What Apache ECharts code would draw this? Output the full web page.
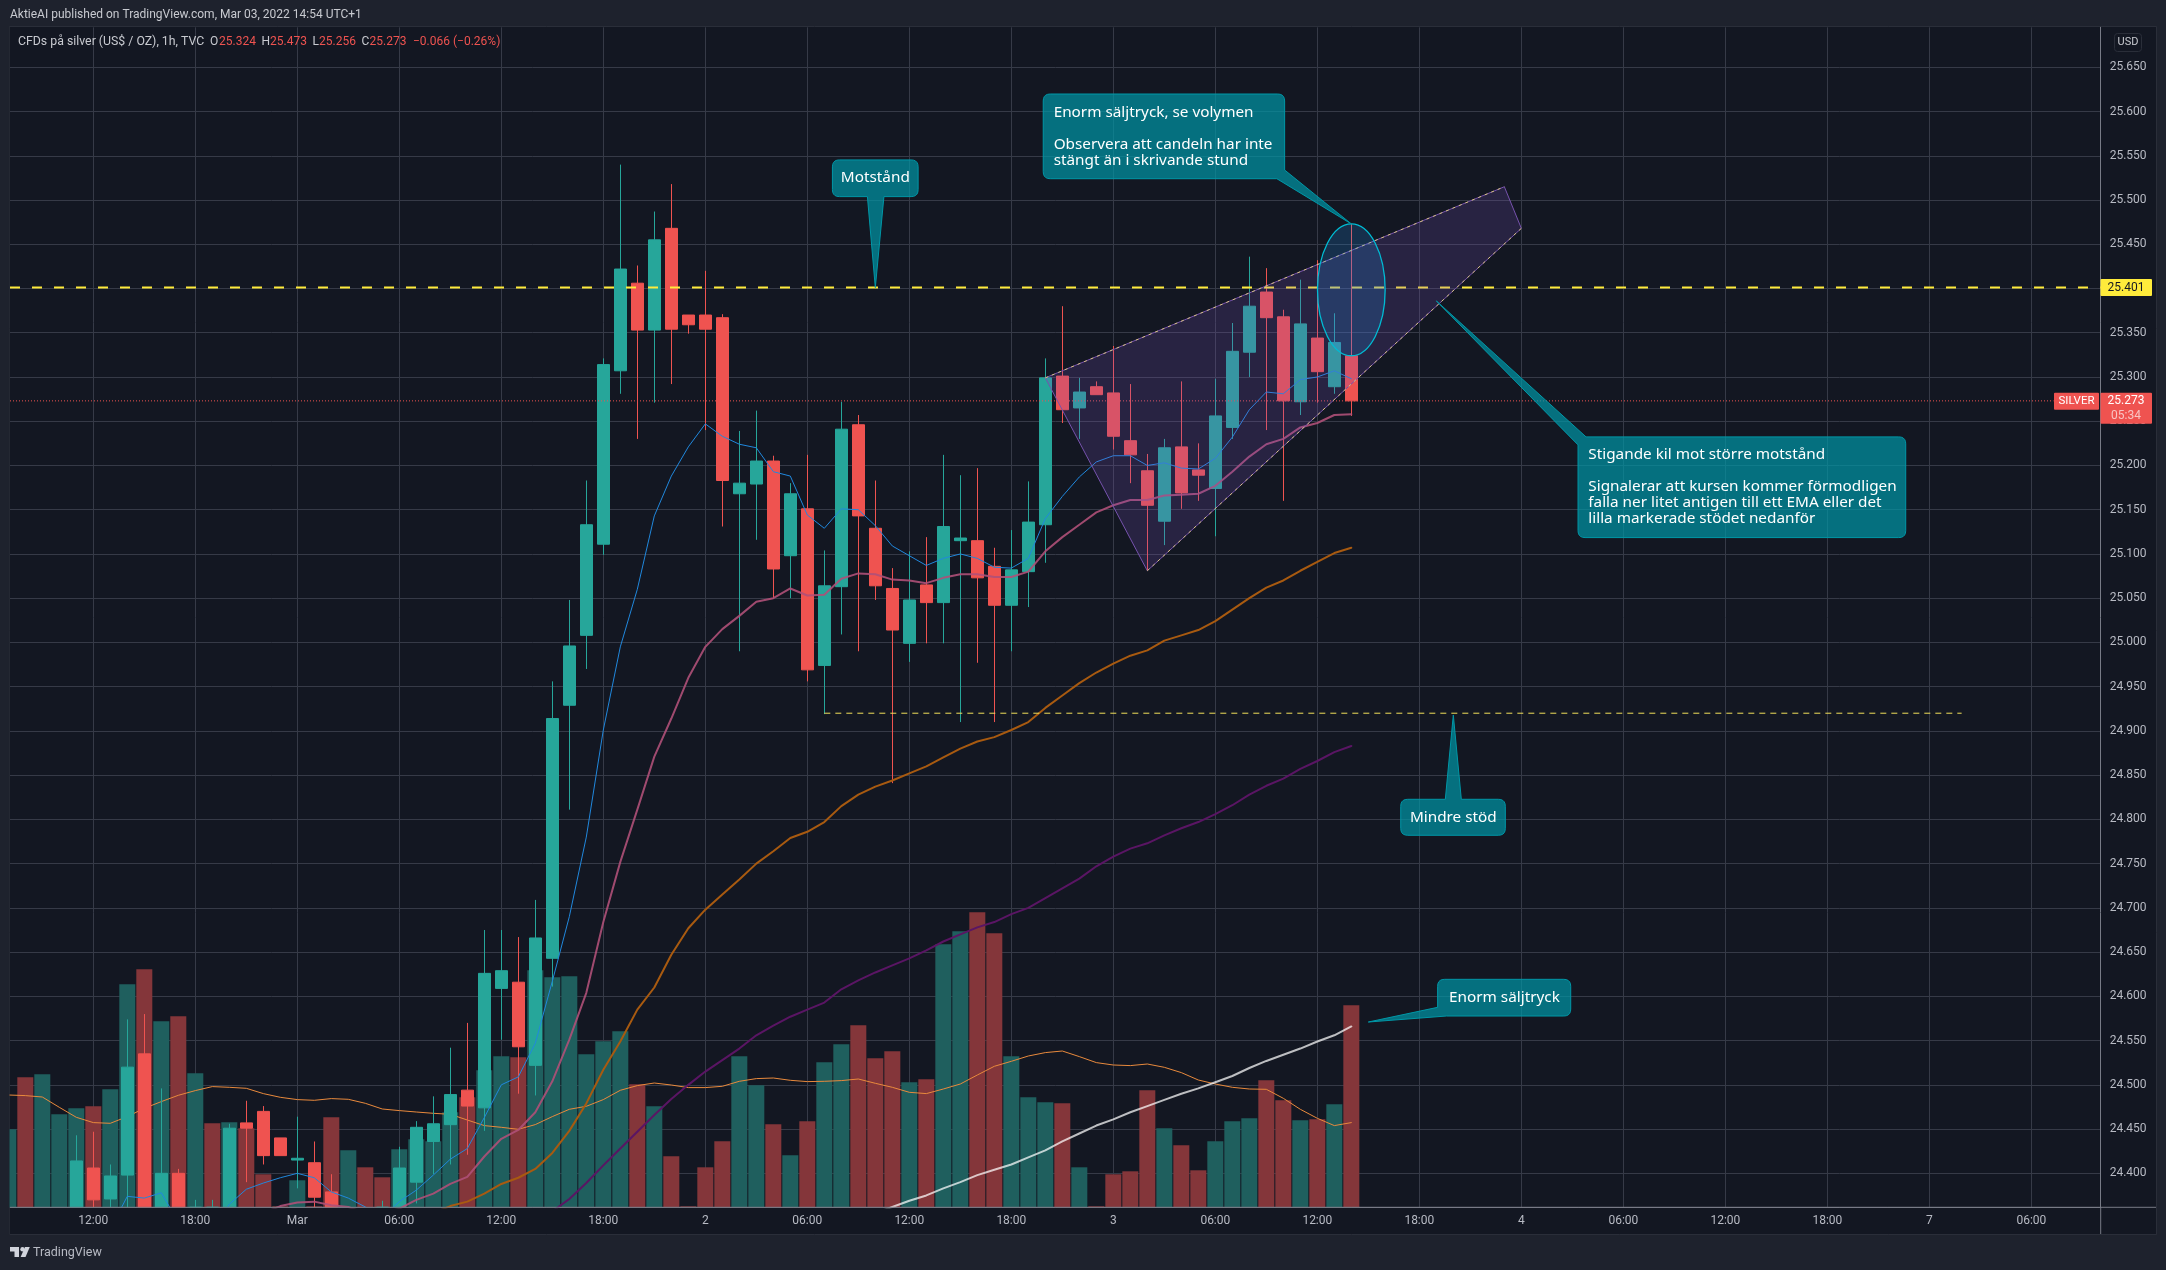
<!DOCTYPE html>
<html><head><meta charset="utf-8">
<script src="https://cdn.jsdelivr.net/npm/echarts@6/dist/echarts.min.js"></script>
<style>html,body{margin:0;padding:0;background:#1e222d}#c{width:2166px;height:1270px}</style>
</head><body><div id="c"></div>
<script>
// ---------- data ----------
const firstCandle = 4;
const candleOpen = [24.33,24.406,24.371,24.398,24.535,24.34,24.400,24.30,24.33,24.33,24.457,24.470,24.440,24.415,24.412,24.379,24.33,24.30,24.33,24.33,24.390,24.436,24.455,24.494,24.474,24.609,24.616,24.522,24.643,24.929,25.008,25.111,25.307,25.406,25.353,25.468,25.370,25.370,25.367,25.168,25.179,25.205,25.098,25.151,24.974,25.063,25.246,25.129,25.061,24.999,25.065,25.045,25.115,25.115,25.086,25.042,25.080,25.133,25.301,25.265,25.289,25.282,25.228,25.194,25.137,25.221,25.195,25.174,25.243,25.328,25.396,25.368,25.272,25.344,25.289,25.324];
const candleClose = [24.414,24.370,24.397,24.520,24.33,24.400,24.34,24.33,24.30,24.451,24.451,24.420,24.420,24.417,24.373,24.33,24.30,24.32,24.31,24.406,24.452,24.456,24.489,24.476,24.626,24.629,24.543,24.666,24.914,24.996,25.133,25.314,25.422,25.353,25.455,25.354,25.359,25.354,25.183,25.180,25.205,25.083,25.168,24.969,25.064,25.241,25.143,25.064,25.014,25.048,25.045,25.131,25.118,25.073,25.042,25.082,25.136,25.299,25.263,25.283,25.280,25.233,25.212,25.155,25.220,25.169,25.189,25.256,25.329,25.380,25.367,25.273,25.360,25.306,25.339,25.273];
const candleLow = [24.31,24.34,24.34,24.34,24.31,24.32,24.32,24.28,24.28,24.31,24.390,24.410,24.420,24.383,24.35,24.31,24.28,24.27,24.29,24.31,24.366,24.399,24.410,24.421,24.448,24.551,24.490,24.488,24.611,24.811,24.970,25.099,25.281,25.230,25.271,25.292,25.349,25.240,25.131,24.990,25.116,25.050,25.050,24.956,24.919,25.009,24.990,25.048,24.841,24.978,24.999,24.999,24.910,24.977,24.910,24.990,25.040,25.090,25.248,25.230,25.280,25.218,25.180,25.081,25.110,25.151,25.160,25.120,25.230,25.300,25.240,25.160,25.257,25.271,25.281,25.256];
const candleHigh = [24.443,24.447,24.410,24.574,24.580,24.496,24.405,24.370,24.370,24.456,24.482,24.476,24.440,24.464,24.436,24.399,24.34,24.34,24.369,24.430,24.459,24.487,24.542,24.570,24.675,24.675,24.667,24.709,24.956,25.048,25.183,25.321,25.540,25.426,25.487,25.518,25.370,25.420,25.371,25.239,25.262,25.211,25.180,25.212,25.104,25.272,25.257,25.183,25.084,25.103,25.119,25.212,25.189,25.197,25.107,25.127,25.182,25.321,25.380,25.299,25.295,25.335,25.292,25.213,25.230,25.295,25.225,25.298,25.361,25.436,25.423,25.376,25.410,25.432,25.372,25.473];

const volumes = [78,130,133,93,99,101,118,223,238,186,191,134,84,85,79,33,1,27,1,90,57,40,30,58,68,66,95,110,137,151,150,237,230,231,153,166,176,123,101,51,1,40,66,151,122,83,52,86,145,163,182,149,156,125,128,263,276,295,274,151,110,105,104,40,1,33,36,117,79,62,37,66,86,89,127,107,87,88,103,202];
const volumeDir = [1,0,1,1,1,0,1,1,0,1,0,1,0,1,0,0,0,1,0,0,1,0,0,1,1,1,1,0,1,1,0,1,1,1,1,1,1,0,1,0,0,0,0,1,1,0,1,0,1,1,0,0,0,1,0,1,1,0,0,1,1,1,0,1,0,0,0,0,1,0,0,1,1,1,0,0,1,0,1,0];
const volumeMA = [112.3,111.7,110.3,100,90,84.7,84,90.7,99,105.7,112,116.7,120.7,120,119,113.7,110,107.7,107,108.7,108,104,98.3,96.7,95.3,94,93,87.3,81.7,80,78,82.7,90.7,98,101,107.7,117,121.7,124.3,122.3,119.7,119.7,121,126,128.7,129.3,127,125.7,126,126.7,128.3,124,120,115,113.7,118.3,123.3,132.3,141,146,151.3,154.7,156.3,150.7,144.7,142.3,141.7,143.3,140,134.7,127.3,123.3,120,118.3,118,109,98,89,81.7,84.7];

const blueStart = 6;
const blueEma = [24.337,24.374,24.372,24.378,24.345,24.33,24.335,24.365,24.382,24.389,24.395,24.400,24.395,24.379,24.372,24.362,24.35,24.368,24.381,24.398,24.416,24.428,24.463,24.500,24.509,24.547,24.617,24.690,24.780,24.901,24.995,25.060,25.143,25.188,25.221,25.247,25.233,25.224,25.220,25.193,25.188,25.144,25.129,25.151,25.150,25.132,25.109,25.098,25.087,25.095,25.100,25.095,25.085,25.084,25.095,25.140,25.165,25.187,25.204,25.211,25.211,25.200,25.203,25.197,25.196,25.208,25.232,25.263,25.283,25.281,25.297,25.300,25.307,25.298];
const pinkStart = 15;
const pinkEma = [24.355,24.363,24.367,24.368,24.364,24.362,24.355,24.355,24.360,24.370,24.377,24.388,24.396,24.419,24.439,24.449,24.469,24.504,24.551,24.604,24.684,24.752,24.811,24.871,24.914,24.960,24.995,25.015,25.030,25.046,25.050,25.061,25.053,25.054,25.072,25.078,25.077,25.071,25.070,25.067,25.073,25.077,25.077,25.074,25.074,25.080,25.103,25.119,25.133,25.147,25.155,25.161,25.161,25.166,25.167,25.168,25.177,25.193,25.210,25.224,25.230,25.243,25.248,25.257,25.258];
const orangeStart = 24;
const orangeEma = [24.345,24.355,24.363,24.368,24.377,24.388,24.395,24.405,24.423,24.448,24.479,24.517,24.549,24.585,24.610,24.647,24.677,24.698,24.715,24.732,24.750,24.764,24.779,24.786,24.797,24.815,24.828,24.837,24.844,24.852,24.860,24.870,24.880,24.888,24.893,24.901,24.910,24.926,24.940,24.954,24.966,24.976,24.985,24.991,25.002,25.008,25.014,25.024,25.037,25.050,25.062,25.070,25.081,25.091,25.101,25.107];
const purpleStart = 32;
const purpleEma = [24.357,24.371,24.389,24.409,24.428,24.447,24.466,24.484,24.500,24.515,24.528,24.541,24.556,24.567,24.577,24.585,24.593,24.608,24.618,24.627,24.635,24.643,24.652,24.662,24.670,24.678,24.684,24.693,24.700,24.711,24.722,24.733,24.747,24.758,24.767,24.773,24.782,24.790,24.797,24.806,24.816,24.828,24.838,24.846,24.857,24.866,24.876,24.883];
const whiteStart = 51;
const whiteEma = [24.355,24.362,24.369,24.375,24.383,24.390,24.398,24.404,24.410,24.418,24.426,24.436,24.445,24.454,24.461,24.469,24.476,24.483,24.490,24.496,24.503,24.510,24.519,24.527,24.534,24.541,24.549,24.556,24.566];

const priceTicks = [24.40,24.45,24.50,24.55,24.60,24.65,24.70,24.75,24.80,24.85,24.90,24.95,25.00,25.05,25.10,25.15,25.20,25.25,25.30,25.35,25.40,25.45,25.50,25.55,25.60,25.65];
const timeTickIndex = [5,11,17,23,29,35,41,47,53,59,65,71,77,83,89,95,101,107,113,119];
const timeTickLabel = ['12:00','18:00','Mar','06:00','12:00','18:00','2','06:00','12:00','18:00','3','06:00','12:00','18:00','4','06:00','12:00','18:00','7','06:00'];

const resistanceLine = [[0.1,25.401],[123.08,25.401]];
const lastPriceLine = [[0.1,25.273],[120.3,25.273]];
const supportLine = [[48,24.92],[114.9,24.92]];
const wedgeApex = [61,25.299];
const wedgeUpper = [88,25.515];
const wedgeRight = [89,25.468];
const wedgeBottom = [67,25.081];
const ellipseBox = [77.01,80.99,25.324,25.473];

const FONT = 'Roboto, "Noto Sans", sans-serif';
const NOTE_FONT = '15.3px "Noto Sans", sans-serif';
const PRICE_MIN = 24.3616, PRICE_MAX = 25.6952;

// callouts: tip in data coordinates, outline offset in pixels from that tip
const callouts = [
 {tip:[51,25.401], text:'Motstånd', at:[0,-109.6], align:'center',
  outline:[[-42.9,-127.7,7],[42.8,-127.7,7],[42.8,-91,7],[8.6,-91,0],[0,0,0],[-7.9,-91,0],[-42.9,-91,7]]},
 {tip:[79,25.473], text:'Enorm säljtryck, se volymen\n\nObservera att candeln har inte\nstängt än i skrivande stund', at:[-297.7,-119.4], align:'left',
  outline:[[-308.1,-129.9,7],[-66.7,-129.9,7],[-66.7,-53.9,0],[0,0,0],[-74.5,-45.2,0],[-308.1,-45.2,7]]},
 {tip:[84,25.386], text:'Stigande kil mot större motstånd\n\nSignalerar att kursen kommer förmodligen\nfalla ner litet antigen till ett EMA eller det\nlilla markerade stödet nedanför', at:[152,146.1], align:'left',
  outline:[[0,0,0],[149.7,136,0],[469.4,136,7],[469.4,236.7,7],[141.7,236.7,7],[141.7,144,0]]},
 {tip:[85,24.918], text:'Mindre stöd', at:[0,102.4], align:'center',
  outline:[[-52.6,84.3,7],[-8,84.3,0],[0,0,0],[8,84.3,0],[52,84.3,7],[52,120.3,7],[-52.6,120.3,7]]},
 {tip:[80,24.571], text:'Enorm säljtryck', at:[136.1,-24.3], align:'center',
  outline:[[69.3,-42.7,7],[202.4,-42.7,7],[202.4,-6,7],[78.1,-6,0],[0,0,0],[69.3,-14.7,0]]}
];

// ---------- helpers ----------
const idx = (arr,start)=>arr.map((v,k)=>[start+k,v]);
function lineSeries(data,color,width,z,extra){
  return Object.assign({type:'line',data,showSymbol:false,symbol:'none',silent:true,animation:false,z,
    lineStyle:{color,width,cap:'round',join:'round'},clip:true},extra||{});
}
function rounded(pts){
  const out=[], n=pts.length;
  for(let k=0;k<n;k++){
    const c=pts[k], r=c[2];
    if(!r){out.push([c[0],c[1]]);continue;}
    const p=pts[(k+n-1)%n], q=pts[(k+1)%n];
    const u=(a)=>{const dx=a[0]-c[0],dy=a[1]-c[1],l=Math.hypot(dx,dy)||1;return [c[0]+dx/l*r,c[1]+dy/l*r];};
    const a=u(p), b=u(q);
    for(let t=0;t<=1.001;t+=0.2){
      const m=1-t;
      out.push([m*m*a[0]+2*m*t*c[0]+t*t*b[0], m*m*a[1]+2*m*t*c[1]+t*t*b[1]]);
    }
  }
  return out;
}
const clampLow = (v)=>Math.max(v,PRICE_MIN);
const candles = candleOpen
  .map((o,k)=>[firstCandle+k,clampLow(o),clampLow(candleClose[k]),clampLow(candleLow[k]),clampLow(candleHigh[k])])
  .filter(c=>c[4]>PRICE_MIN);

// ---------- chart ----------
const chart = echarts.init(document.getElementById('c'),null,{renderer:'canvas',width:2166,height:1270});
const LEFT=10, RIGHTX=2100.7, TOP=27.3, BOTTOM=1207.3;
const GRIDC='#363a47', AXC='#787b86', TXT='#b8bbc4', RED='#ef5350';
const txt=(x,y,text,fill,size,extra)=>Object.assign({type:'text',z:20,silent:true,style:{x,y,text,fill:fill||TXT,font:(size||12)+'px '+FONT,verticalAlign:'middle'}},extra||{});

chart.setOption({
  animation:false,
  backgroundColor:'#1e222d',
  grid:{left:LEFT,top:TOP,width:RIGHTX-LEFT,height:BOTTOM-TOP,containLabel:false,show:false},
  xAxis:{type:'value',min:0.1,max:123.08,position:'bottom',
    axisLine:{show:true,onZero:false,lineStyle:{color:AXC,width:1}},
    axisTick:{show:false,customValues:timeTickIndex},
    splitLine:{show:true,lineStyle:{color:GRIDC,width:1}},
    axisLabel:{customValues:timeTickIndex,color:TXT,fontFamily:'Roboto',fontSize:12,margin:8,
      formatter:(v)=>timeTickLabel[timeTickIndex.indexOf(v)]||''}},
  yAxis:[
    {type:'value',min:PRICE_MIN,max:PRICE_MAX,position:'right',scale:true,
     axisLine:{show:true,onZero:false,lineStyle:{color:AXC,width:1}},
     axisTick:{show:false,customValues:priceTicks},
     splitLine:{show:true,lineStyle:{color:GRIDC,width:1}},
     axisLabel:{customValues:priceTicks,color:TXT,fontFamily:'Roboto',fontSize:12,margin:9,
       formatter:(v)=>v.toFixed(3)}},
    {type:'value',min:0,max:1180,show:false,splitLine:{show:false}}
  ],
  series:[
    {type:'bar',name:'Volume',yAxisIndex:1,barWidth:16,z:1,silent:true,animation:false,clip:true,
     data:volumes.map((v,k)=>({value:[k,v],itemStyle:{color:volumeDir[k]?'#1f5f5e':'#84363a'}}))},
    lineSeries(idx(volumeMA,0),'#e98a3d',1,2,{yAxisIndex:1}),
    {type:'candlestick',name:'CFDs på silver',data:candles,barWidth:13,z:3,silent:true,animation:false,clip:true,
     itemStyle:{color:'#26a69a',color0:RED,borderColor:'#26a69a',borderColor0:RED,borderWidth:1,borderColorDoji:'#26a69a'}},
    lineSeries(idx(whiteEma,whiteStart),'rgba(255,255,255,0.72)',2,4),
    lineSeries(idx(purpleEma,purpleStart),'#5a1564',2,4),
    lineSeries(idx(orangeEma,orangeStart),'#a85a10',2,4),
    lineSeries(idx(pinkEma,pinkStart),'rgba(175,80,120,0.9)',2,4),
    lineSeries(idx(blueEma,blueStart),'#2188dd',1,4),
    lineSeries(resistanceLine,'#ffeb3b',2,5,{lineStyle:{color:'#ffeb3b',width:2,type:[10,12]}}),
    lineSeries(lastPriceLine,RED,1,5,{lineStyle:{color:RED,width:1,type:[1,2]}}),
    lineSeries(supportLine,'#f2e05a',1,5,{lineStyle:{color:'#f2e05a',width:1,type:[6,5]}}),
    {type:'custom',name:'Wedge',z:6,silent:true,animation:false,clip:false,data:[[0,0]],
     renderItem:(p,api)=>({type:'polygon',
       shape:{points:[wedgeApex,wedgeUpper,wedgeRight,wedgeBottom].map(c=>api.coord(c))},
       style:{fill:'rgba(126,87,194,0.2)',stroke:'#7652ad',lineWidth:1}})},
    lineSeries([wedgeApex,wedgeUpper],'rgba(255,235,120,0.75)',1,6,{lineStyle:{color:'rgba(255,235,120,0.75)',width:1,type:[3,4]}}),
    lineSeries([wedgeBottom,wedgeRight],'rgba(255,235,120,0.75)',1,6,{lineStyle:{color:'rgba(255,235,120,0.75)',width:1,type:[3,4]}}),
    {type:'custom',name:'Ellipse',z:7,silent:true,animation:false,clip:false,data:[[0,0]],
     renderItem:(p,api)=>{
       const a=api.coord([ellipseBox[0],ellipseBox[3]]), b=api.coord([ellipseBox[1],ellipseBox[2]]);
       return {type:'ellipse',shape:{cx:(a[0]+b[0])/2,cy:(a[1]+b[1])/2,rx:(b[0]-a[0])/2,ry:(b[1]-a[1])/2},
         style:{fill:'rgba(33,150,243,0.2)',stroke:'#00bcd4',lineWidth:1.3}};
     }},
    {type:'custom',name:'Callouts',z:8,silent:true,animation:false,clip:false,data:callouts.map((c,k)=>[k,0]),
     renderItem:(p,api)=>{
       const c=callouts[p.dataIndex], t=api.coord(c.tip);
       return {type:'group',x:t[0],y:t[1],children:[
         {type:'polygon',shape:{points:rounded(c.outline)},style:{fill:'rgba(0,151,167,0.7)',stroke:'#0097a7',lineWidth:1}},
         {type:'text',style:{text:c.text,x:c.at[0],y:c.at[1],fill:'#ffffff',font:NOTE_FONT,align:c.align,
            verticalAlign:c.align==='center'?'middle':'top',lineHeight:16}}
       ]};
     }},
    {type:'custom',name:'Price tags',z:9,silent:true,animation:false,clip:false,data:[[0,25.401],[0,25.273]],
     renderItem:(p,api)=>{
       const v=api.value(1), y=api.coord([0,v])[1];
       if(p.dataIndex===0) return {type:'group',children:[
         {type:'rect',shape:{x:2100.5,y:y-8.5,width:51.5,height:17,r:1},style:{fill:'#ffeb3b'}},
         {type:'text',style:{text:v.toFixed(3),x:2126,y:y,fill:'#131722',font:'12px '+FONT,align:'center',verticalAlign:'middle'}}
       ]};
       return {type:'group',children:[
         {type:'rect',shape:{x:2054,y:y-8,width:45,height:17,r:1},style:{fill:RED}},
         {type:'text',style:{text:'SILVER',x:2076.5,y:y+0.5,fill:'#ffffff',font:'11.5px '+FONT,align:'center',verticalAlign:'middle'}},
         {type:'rect',shape:{x:2100.5,y:y-8,width:51.5,height:31,r:1},style:{fill:RED}},
         {type:'text',style:{text:v.toFixed(3),x:2126,y:y+0.5,fill:'#ffffff',font:'12px '+FONT,align:'center',verticalAlign:'middle'}},
         {type:'text',style:{text:'05:34',x:2126,y:y+15,fill:'#f8c4c3',font:'12px '+FONT,align:'center',verticalAlign:'middle'}}
       ]};
     }}
  ],
  graphic:[
    {type:'rect',z:-10,silent:true,shape:{x:9.5,y:26.5,width:2147,height:1208},style:{fill:'#131722',stroke:'#2a2e39',lineWidth:1}},
    {type:'rect',z:20,silent:true,shape:{x:0,y:27,width:9.5,height:1208},style:{fill:'#1e222d'}},
    {type:'line',z:20,silent:true,shape:{x1:10,y1:BOTTOM,x2:2156,y2:BOTTOM},style:{stroke:AXC,lineWidth:1}},
    {type:'line',z:20,silent:true,shape:{x1:RIGHTX,y1:BOTTOM,x2:RIGHTX,y2:1234},style:{stroke:AXC,lineWidth:1}},
    {type:'rect',z:20,silent:true,shape:{x:2114.5,y:33.5,width:27,height:18,r:3},style:{fill:'#131722',stroke:'#2a2e39',lineWidth:1}},
    txt(2128,42.5,'USD',TXT,11,{style:{x:2128,y:42.5,text:'USD',fill:'#c8cad0',font:'11px '+FONT,align:'center',verticalAlign:'middle'}}),
    txt(10,15,'AktieAI published on TradingView.com, Mar 03, 2022 14:54 UTC+1','#c8cad0',12),
    txt(18,41.7,'CFDs på silver (US$ / OZ), 1h, TVC','#c8cad0',12.3),
    txt(210,41.7,'O','#c8cad0',12), txt(219,41.7,'25.324',RED,12),
    txt(261.6,41.7,'H','#c8cad0',12), txt(270,41.7,'25.473',RED,12),
    txt(312.5,41.7,'L','#c8cad0',12), txt(319,41.7,'25.256',RED,12),
    txt(361.6,41.7,'C','#c8cad0',12), txt(369.5,41.7,'25.273',RED,12),
    txt(413,41.7,'−0.066 (−0.26%)',RED,12),
    {type:'polygon',z:20,silent:true,shape:{points:[[10,1247],[19,1247],[19,1257],[14.5,1257],[14.5,1251.5],[10,1251.5]]},style:{fill:'#d1d4dc'}},
    {type:'circle',z:20,silent:true,shape:{cx:22.5,cy:1249.2,r:2.2},style:{fill:'#d1d4dc'}},
    {type:'polygon',z:20,silent:true,shape:{points:[[25,1247],[29.8,1247],[25.5,1257],[20.6,1257]]},style:{fill:'#d1d4dc'}},
    txt(33,1252.5,'TradingView','#b8bbc4',12.5)
  ]
});
</script></body></html>
